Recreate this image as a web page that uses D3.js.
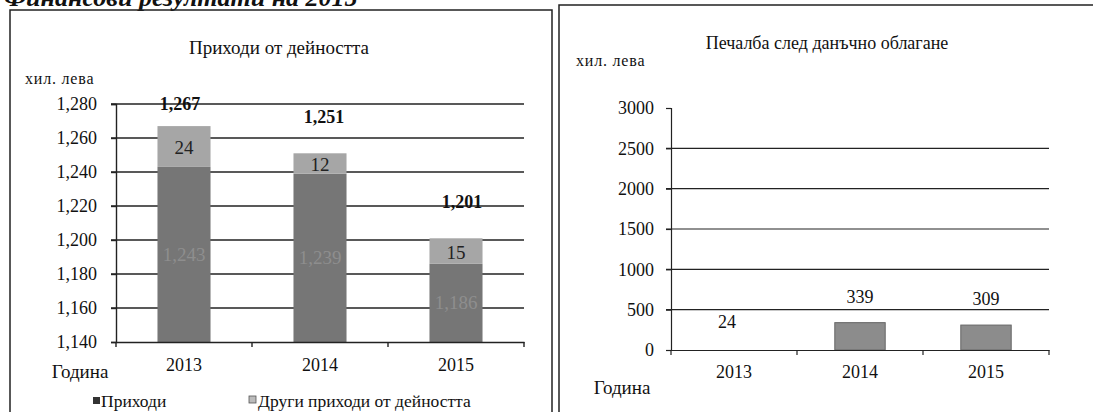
<!DOCTYPE html>
<html><head><meta charset="utf-8">
<script src="https://cdn.jsdelivr.net/npm/d3@7"></script>
<style>
html,body{margin:0;padding:0;background:#fff;}
svg text{font-family:"Liberation Serif","Times New Roman",serif;fill:#111;}
</style></head>
<body>
<svg id="c" width="1093" height="412"></svg>
<script>
// ---- data ----
const years = ["2013","2014","2015"];
const revenue = [1243, 1239, 1186];          // Приходи
const otherRevenue = [24, 12, 15];           // Други приходи от дейността
const revenueTotals = [1267, 1251, 1201];
const revenueTicks = [1140,1160,1180,1200,1220,1240,1260,1280];
const profit = [24, 339, 309];               // Печалба след данъчно облагане
const profitTicks = [0,500,1000,1500,2000,2500,3000];

const svg = d3.select("#c");
const fmt = d3.format(",");
const FS = "18px";

// page heading (cut off at top, as in the scan)
svg.append("text").attr("x",4).attr("y",6)
  .style("font-size","26px").style("font-weight","bold").style("font-style","italic")
  .text("Финансови резултати на 2015");

// frames
svg.append("path").attr("d","M10,412V10H552V412").attr("fill","none").attr("stroke","#222").attr("stroke-width",1.5);
svg.append("path").attr("d","M559,412V5H1093").attr("fill","none").attr("stroke","#222").attr("stroke-width",1.5);

// ================= LEFT CHART =================
const xL = d3.scaleBand().domain(years).range([116,524]).paddingInner(0.61).paddingOuter(0.305);
const yL = d3.scaleLinear().domain([1140,1280]).range([342,104]);
const gL = svg.append("g");

gL.append("text").attr("x",279).attr("y",47).attr("text-anchor","middle")
  .attr("dominant-baseline","central").style("font-size","19px").text("Приходи от дейността");
gL.append("text").attr("x",25).attr("y",78).attr("dominant-baseline","central")
  .style("font-size","16px").style("letter-spacing","0.8px").text("хил. лева");

// gridlines
gL.append("g").selectAll("line").data(revenueTicks.slice(1)).join("line")
  .attr("x1",111).attr("x2",524).attr("y1",d=>yL(d)).attr("y2",d=>yL(d))
  .attr("stroke","#222").attr("stroke-width",1.4);

// y axis
const yAxL = gL.append("g").attr("transform","translate(116,0)")
  .call(d3.axisLeft(yL).tickValues(revenueTicks).tickFormat(fmt).tickSize(5).tickPadding(14));
yAxL.select(".domain").attr("stroke","#222").attr("stroke-width",1.4);
yAxL.selectAll(".tick line").attr("stroke","#222").attr("stroke-width",1.4);
yAxL.selectAll(".tick text").style("font-size",FS).style("font-family","Liberation Serif").attr("fill","#111");

// bars
const stackL = years.map((y,i)=>({year:y, a:revenue[i], b:otherRevenue[i], t:revenueTotals[i]}));
gL.append("g").selectAll("rect").data(stackL).join("rect")
  .attr("x",d=>xL(d.year)).attr("width",xL.bandwidth())
  .attr("y",d=>yL(d.a)).attr("height",d=>yL(1140)-yL(d.a)).attr("fill","#767676");
gL.append("g").selectAll("rect").data(stackL).join("rect")
  .attr("x",d=>xL(d.year)).attr("width",xL.bandwidth())
  .attr("y",d=>yL(d.a+d.b)).attr("height",d=>yL(d.a)-yL(d.a+d.b)).attr("fill","#a6a6a6");

// x axis
const xAxL = gL.append("g").attr("transform","translate(0,342)")
  .call(d3.axisBottom(xL).tickSize(0).tickPadding(16));
xAxL.select(".domain").attr("stroke","#222").attr("stroke-width",1.4);
xAxL.selectAll(".tick text").style("font-size",FS).style("font-family","Liberation Serif").attr("fill","#111");
const stepL = xL.step();
gL.append("g").selectAll("line").data(d3.range(4)).join("line")
  .attr("x1",d=>116+d*stepL).attr("x2",d=>116+d*stepL).attr("y1",342).attr("y2",347)
  .attr("stroke","#222").attr("stroke-width",1.4);

// labels
const cx = d=>xL(d.year)+xL.bandwidth()/2;
gL.append("g").selectAll("text").data(stackL).join("text")
  .attr("x",cx).attr("y",d=>(yL(1140)+yL(d.a))/2).attr("text-anchor","middle").attr("dominant-baseline","central")
  .style("font-size","19px").style("fill","#8e8e8e").text(d=>fmt(d.a));
gL.append("g").selectAll("text").data(stackL).join("text")
  .attr("x",cx).attr("y",d=>(yL(d.a)+yL(d.a+d.b))/2+1).attr("text-anchor","middle").attr("dominant-baseline","central")
  .style("font-size","19px").style("fill","#222").text(d=>d.b);
gL.append("g").selectAll("text").data(stackL).join("text")
  .attr("x",(d,i)=>cx(d)+(i===2?6:(i===1?4:-4))).attr("y",d=>yL(d.t)-(d.t>1260?22:36)).attr("text-anchor","middle").attr("dominant-baseline","central")
  .style("font-size",FS).style("font-weight","bold").text(d=>fmt(d.t));

gL.append("text").attr("x",80).attr("y",371).attr("text-anchor","middle").attr("dominant-baseline","central")
  .style("font-size","19px").text("Година");

// legend
const lg = gL.append("g");
lg.append("rect").attr("x",93).attr("y",397).attr("width",7).attr("height",7).attr("fill","#333");
lg.append("text").attr("x",101).attr("y",401).attr("dominant-baseline","central").style("font-size","17.5px").text("Приходи");
lg.append("rect").attr("x",249).attr("y",396).attr("width",7).attr("height",7).attr("fill","#bbb").attr("stroke","#555").attr("stroke-width",0.8);
lg.append("text").attr("x",258).attr("y",401).attr("dominant-baseline","central").style("font-size","17.5px").text("Други приходи от дейността");

// ================= RIGHT CHART =================
const xR = d3.scaleBand().domain(years).range([671,1049]).paddingInner(0.6).paddingOuter(0.3);
const yR = d3.scaleLinear().domain([0,3000]).range([350,108]);
const gR = svg.append("g");

gR.append("text").attr("x",827).attr("y",43).attr("text-anchor","middle")
  .attr("dominant-baseline","central").style("font-size","18px").text("Печалба след данъчно облагане");
gR.append("text").attr("x",576).attr("y",60).attr("dominant-baseline","central")
  .style("font-size","16px").style("letter-spacing","0.8px").text("хил. лева");

gR.append("g").selectAll("line").data(profitTicks.slice(1,-1)).join("line")
  .attr("x1",666).attr("x2",1049).attr("y1",d=>yR(d)).attr("y2",d=>yR(d))
  .attr("stroke","#222").attr("stroke-width",1.2);

const yAxR = gR.append("g").attr("transform","translate(671,0)")
  .call(d3.axisLeft(yR).tickValues(profitTicks).tickFormat(d3.format("d")).tickSize(5).tickPadding(12));
yAxR.select(".domain").attr("stroke","#222").attr("stroke-width",1.2);
yAxR.selectAll(".tick line").attr("stroke","#222").attr("stroke-width",1.2);
yAxR.selectAll(".tick text").style("font-size",FS).style("font-family","Liberation Serif").attr("fill","#111");

const dataR = years.map((y,i)=>({year:y, v:profit[i]}));
gR.append("g").selectAll("rect").data(dataR).join("rect")
  .attr("x",d=>xR(d.year)).attr("width",xR.bandwidth())
  .attr("y",d=>yR(d.v)).attr("height",d=>yR(0)-yR(d.v))
  .attr("fill",(d,i)=>i===0?"#fff":"#8c8c8c").attr("stroke",(d,i)=>i===0?"none":"#666").attr("stroke-width",1);

const xAxR = gR.append("g").attr("transform","translate(0,350)")
  .call(d3.axisBottom(xR).tickSize(0).tickPadding(15));
xAxR.select(".domain").attr("stroke","#222").attr("stroke-width",1.2);
xAxR.selectAll(".tick text").style("font-size",FS).style("font-family","Liberation Serif").attr("fill","#111");
const stepR = xR.step();
gR.append("g").selectAll("line").data(d3.range(4)).join("line")
  .attr("x1",d=>671+d*stepR).attr("x2",d=>671+d*stepR).attr("y1",350).attr("y2",355)
  .attr("stroke","#222").attr("stroke-width",1.2);

gR.append("g").selectAll("text").data(dataR).join("text")
  .attr("x",(d,i)=>xR(d.year)+xR.bandwidth()/2-(i===0?7:0)).attr("y",d=>yR(d.v)-26)
  .attr("text-anchor","middle").attr("dominant-baseline","central")
  .style("font-size",FS).text(d=>d.v);

gR.append("text").attr("x",622).attr("y",387).attr("text-anchor","middle").attr("dominant-baseline","central")
  .style("font-size","19px").text("Година");
</script>
</body></html>
